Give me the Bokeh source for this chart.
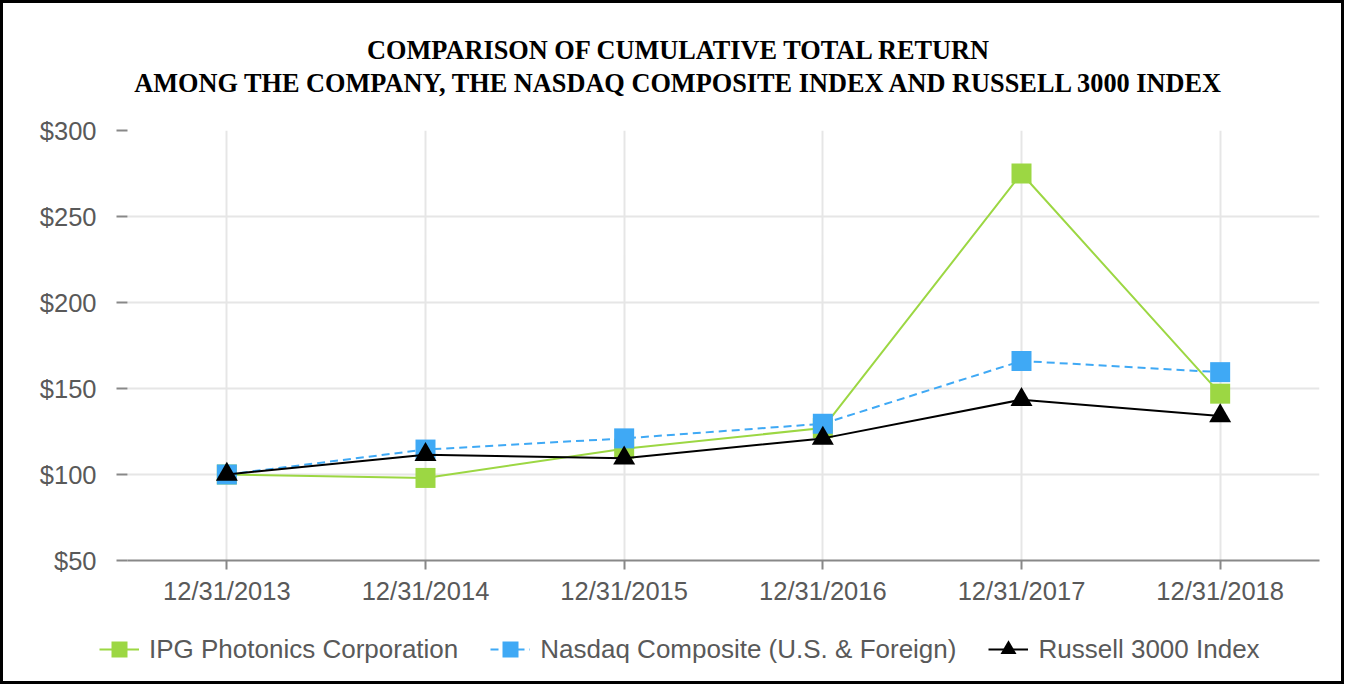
from bokeh.plotting import figure
from bokeh.models import Range1d, Label, Legend, NumeralTickFormatter, FactorRange
from bokeh.layouts import column
from bokeh.embed import file_html
from bokeh.resources import INLINE

dates = ["12/31/2013", "12/31/2014", "12/31/2015", "12/31/2016", "12/31/2017", "12/31/2018"]
ipg = [100, 98, 115, 127, 275, 147]
nasdaq = [100, 114.5, 121, 129.5, 166, 159.5]
russell = [100, 111.5, 109.5, 121, 143.5, 134]
y_ticks = [50, 100, 150, 200, 250, 300]

title1 = "COMPARISON OF CUMULATIVE TOTAL RETURN"
title2 = "AMONG THE COMPANY, THE NASDAQ COMPOSITE INDEX AND RUSSELL 3000 INDEX"
names = ["IPG Photonics Corporation", "Nasdaq Composite (U.S. & Foreign)", "Russell 3000 Index"]

GREEN = "#9cd743"
BLUE = "#3fa9f5"
BLACK = "#000000"
GREY_TXT = "#595959"
W = 1338

series = [
    (names[0], ipg, GREEN, "solid", "square", 20),
    (names[1], nasdaq, BLUE, "8 5", "square", 20),
    (names[2], russell, BLACK, "solid", "triangle", 22),
]

# ---- title strip
TH = 100
tt = figure(width=W, height=TH, x_range=Range1d(0, W), y_range=Range1d(0, TH),
            output_backend="svg", toolbar_location=None, frame_align=False,
            min_border_left=0, min_border_right=0, min_border_top=0, min_border_bottom=0)
tt.axis.visible = False
tt.grid.visible = False
tt.outline_line_color = None
for txt, yy in [(title1, 53), (title2, 20)]:
    tt.add_layout(Label(x=W / 2 + 7, y=yy, text=txt, text_align="center", text_baseline="middle",
                        text_font="Liberation Serif", text_font_style="bold",
                        text_font_size="26.3px", text_color="black"))

# ---- main chart
p = figure(width=W, height=504, x_range=FactorRange(*dates), y_range=Range1d(50, 300),
           output_backend="svg", toolbar_location=None, frame_align=False,
           min_border_left=124, min_border_right=22, min_border_top=27, min_border_bottom=46)
p.outline_line_color = None

for name, vals, col, dash, marker, size in series:
    p.line(dates, vals, line_color=col, line_width=2, line_dash=dash)
    p.scatter(dates, vals, marker=marker, size=size, fill_color=col, line_color=None)

p.yaxis.ticker = y_ticks
p.yaxis.formatter = NumeralTickFormatter(format="$0")
p.yaxis.axis_line_color = None
p.yaxis.major_tick_line_color = "#888888"
p.yaxis.major_tick_line_width = 2
p.yaxis.major_tick_in = 0
p.yaxis.major_tick_out = 11
p.yaxis.minor_tick_line_color = None
p.yaxis.major_label_standoff = 20
p.yaxis.major_label_text_font = "Liberation Sans"
p.yaxis.major_label_text_font_size = "25.5px"
p.yaxis.major_label_text_color = GREY_TXT

p.xaxis.axis_line_color = "#888888"
p.xaxis.axis_line_width = 2
p.xaxis.major_tick_line_color = "#888888"
p.xaxis.major_tick_line_width = 2
p.xaxis.major_tick_in = 0
p.xaxis.major_tick_out = 9
p.xaxis.major_label_standoff = 7
p.xaxis.major_label_text_font = "Liberation Sans"
p.xaxis.major_label_text_font_size = "25.5px"
p.xaxis.major_label_text_color = GREY_TXT

p.xgrid.grid_line_color = "#e6e6e6"
p.xgrid.grid_line_width = 2
p.ygrid.grid_line_color = "#e6e6e6"
p.ygrid.grid_line_width = 2

# ---- legend strip (renderers lie outside its y range, only the legend shows)
lg = figure(width=W, height=74, x_range=FactorRange(*dates), y_range=Range1d(1000, 1001),
            output_backend="svg", toolbar_location=None, frame_align=False,
            min_border_left=0, min_border_right=0, min_border_top=6, min_border_bottom=0)
lg.axis.visible = False
lg.grid.visible = False
lg.outline_line_color = None
items = []
for name, vals, col, dash, marker, size in series:
    rl = lg.line(dates, vals, line_color=col, line_width=2, line_dash=dash)
    rm = lg.scatter(dates, vals, marker=marker, size=size, fill_color=col, line_color=None)
    items.append((name, [rl, rm]))
legend = Legend(items=items, orientation="horizontal", location=(96, 12),
                label_text_font="Liberation Sans", label_text_font_size="26px",
                label_text_color=GREY_TXT, glyph_width=40, glyph_height=40,
                spacing=32, label_standoff=10, border_line_color=None,
                background_fill_alpha=0, padding=0, margin=0)
lg.add_layout(legend, "center")

layout = column(tt, p, lg, spacing=0, styles={"border": "3px solid black"})

open("out.html", "w").write(file_html(layout, INLINE))
